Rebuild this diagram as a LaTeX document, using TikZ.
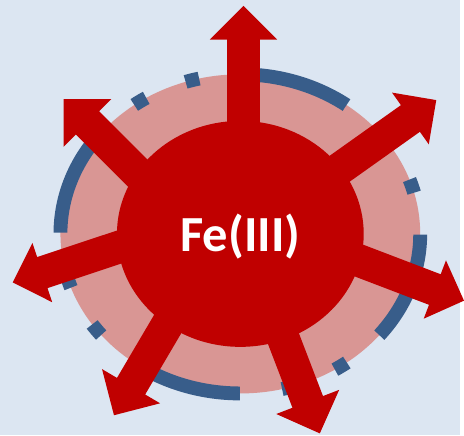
\documentclass[tikz,border=0pt]{standalone}
\usepackage{fontspec}
\newfontfamily\calibrifont{Carlito}
\usepackage{tikz}
\usetikzlibrary{shapes.geometric}
\definecolor{bgblue}{RGB}{220,230,242}
\definecolor{halopink}{RGB}{217,150,148}
\definecolor{ironred}{RGB}{192,0,0}
\definecolor{ringblue}{RGB}{56,93,138}

\begin{document}
\begin{tikzpicture}[x=1pt,y=1pt,
    ring/.style={draw=ringblue, line width=14pt,
        dash pattern=on 112pt off 43pt on 14pt off 43pt on 14pt off 43pt},
    blockarrow/.style={fill=ironred}
]
\fill[bgblue] (0,0) rectangle (464,439);
\coordinate (c) at (242.5,203);
\fill[halopink] (c) ellipse [x radius=181.5, y radius=161];
\draw[ring] (c) ++(234:181.5 and 161)
    arc [start angle=234, delta angle=360, x radius=181.5, y radius=161];
\foreach \tx/\ty/\ang/\hd in {245.7/433/90/34, 440.2/338/35.4/32,
        468.2/135.6/-20.9/31.5, 322.7/1.7/-69/34, 115/20/-120.5/34,
        12.8/154/198.4/31.5, 64.3/339/135/34}
    \fill[blockarrow, shift={(\tx,\ty)}, rotate=\ang]
        (0,0) -- (-\hd,\hd) -- (-\hd,16.5) -- (-170,16.5)
        -- (-170,-16.5) -- (-\hd,-16.5) -- (-\hd,-\hd) -- cycle;
\node[
    ellipse,
    fill=ironred,
    inner sep=0pt,
    minimum width=249pt,
    minimum height=228pt
] (core) at (c) {};
\node[
    text=white,
    anchor=base,
    font=\calibrifont\bfseries\fontsize{51}{60}\selectfont
] (fe) at ([yshift=-17.3pt]core.center) {Fe(III)};
\end{tikzpicture}
\end{document}
